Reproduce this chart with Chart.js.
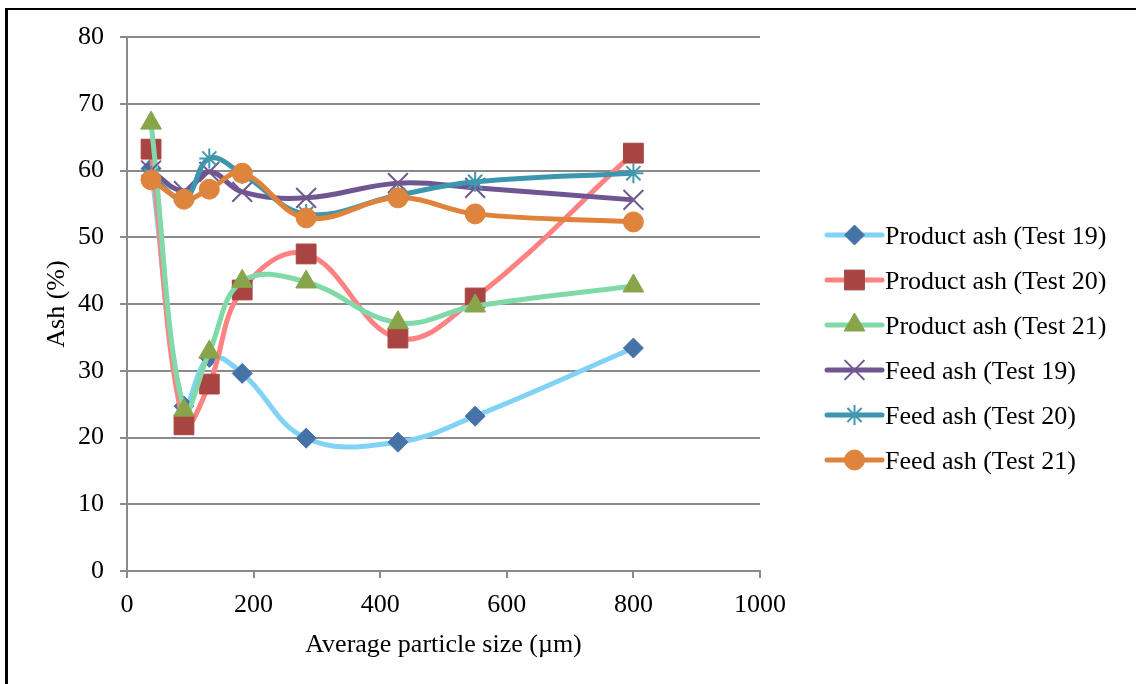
<!DOCTYPE html>
<html>
<head>
<meta charset="utf-8">
<script src="https://cdn.jsdelivr.net/npm/chart.js@4/dist/chart.umd.min.js"></script>
<style>
  html, body { margin: 0; padding: 0; background: #fff; overflow: hidden; }
  #wrap { position: relative; width: 1136px; height: 684px; }
  #chart { position: absolute; left: 0; top: 0; }
  #frame {
    position: absolute; left: 5px; top: 8px; width: 1300px; height: 900px;
    border-left: 3px solid #000; border-top: 2px solid #000; pointer-events: none;
  }
</style>
</head>
<body>
<div id="wrap">
  <canvas id="chart" width="1136" height="684"></canvas>
  <div id="frame"></div>
</div>
<script>
// Average particle size of each size fraction (µm)
const particleSize = [38, 90, 130, 182, 283, 428, 550, 800];

// Ash content (%) per size fraction
const productAshTest19 = [60.3, 24.7, 32.0, 29.6, 19.9, 19.3, 23.2, 33.4];
const productAshTest20 = [63.2, 21.9, 28.0, 42.1, 47.5, 34.9, 40.9, 62.6];
const productAshTest21 = [67.1, 24.1, 32.8, 43.4, 43.3, 37.2, 39.7, 42.7];
const feedAshTest19    = [60.0, 56.9, 59.8, 56.8, 55.9, 58.1, 57.4, 55.6];
const feedAshTest20    = [59.2, 55.8, 61.8, 59.5, 53.5, 56.3, 58.3, 59.6];
const feedAshTest21    = [58.6, 55.7, 57.2, 59.6, 52.9, 55.9, 53.5, 52.3];

const seriesNames = [
  'Product ash (Test 19)', 'Product ash (Test 20)', 'Product ash (Test 21)',
  'Feed ash (Test 19)', 'Feed ash (Test 20)', 'Feed ash (Test 21)'
];

const yTicks = [0, 10, 20, 30, 40, 50, 60, 70, 80];
const xTicks = [0, 200, 400, 600, 800, 1000];

const FONT = '"Liberation Serif", "Times New Roman", serif';

function pairs(values) {
  return particleSize.map((x, i) => ({ x: x, y: values[i] }));
}

const styles = [
  { line: '#80D3F5', mark: '#4572A7', shape: 'rectRot',  r: 10, bw: 1 },
  { line: '#FF8282', mark: '#A84542', shape: 'rect',     r: 14, bw: 1 },
  { line: '#80D9A8', mark: '#88A54C', shape: 'triangle', r: 12, bw: 1 },
  { line: '#6F5592', mark: '#71588F', shape: 'crossRot', r: 14, bw: 2 },
  { line: '#3C96AE', mark: '#4198AF', shape: 'star',     r: 10, bw: 2 },
  { line: '#E0823A', mark: '#DE843D', shape: 'circle',   r: 10, bw: 1 }
];

const seriesValues = [
  productAshTest19, productAshTest20, productAshTest21,
  feedAshTest19, feedAshTest20, feedAshTest21
];

const datasets = seriesValues.map((vals, i) => ({
  label: seriesNames[i],
  data: pairs(vals),
  borderColor: styles[i].line,
  borderWidth: 5,
  tension: 0.4,
  fill: false,
  pointStyle: styles[i].shape,
  pointRadius: styles[i].r,
  pointBackgroundColor: styles[i].mark,
  pointBorderColor: styles[i].mark,
  pointBorderWidth: styles[i].bw,
  order: seriesValues.length - i
}));

// Legend drawn to the right of the plot: line sample with marker, then label
const sideLegend = {
  id: 'sideLegend',
  afterDraw(chart) {
    const ctx = chart.ctx;
    const x0 = 827, x1 = 882, textX = 885, top = 235, step = 45;
    ctx.save();
    chart.data.datasets.forEach((ds, i) => {
      const y = top + i * step;
      ctx.beginPath();
      ctx.strokeStyle = ds.borderColor;
      ctx.lineWidth = 5;
      ctx.lineCap = 'round';
      ctx.moveTo(x0, y);
      ctx.lineTo(x1, y);
      ctx.stroke();
      ctx.lineCap = 'butt';
      ctx.fillStyle = ds.pointBackgroundColor;
      ctx.strokeStyle = ds.pointBorderColor;
      ctx.lineWidth = ds.pointBorderWidth;
      Chart.helpers.drawPoint(ctx, {
        pointStyle: ds.pointStyle,
        radius: ds.pointRadius,
        rotation: 0,
        borderWidth: ds.pointBorderWidth
      }, (x0 + x1) / 2, y);
      ctx.fillStyle = '#000';
      ctx.font = '26px ' + FONT;
      ctx.textBaseline = 'alphabetic';
      ctx.textAlign = 'left';
      ctx.fillText(ds.label, textX, y + 9);
    });
    ctx.restore();
  }
};

new Chart(document.getElementById('chart'), {
  type: 'line',
  data: { datasets: datasets },
  plugins: [sideLegend],
  options: {
    responsive: false,
    animation: false,
    events: [],
    layout: { padding: { left: 0, top: 37, right: 376, bottom: 0 } },
    plugins: { legend: { display: false }, tooltip: { enabled: false } },
    scales: {
      x: {
        type: 'linear',
        min: 0, max: 1000,
        afterBuildTicks(scale) { scale.ticks = xTicks.map(v => ({ value: v })); },
        afterFit(scale) { scale.height = 113; },
        border: { display: true, color: '#8a8a8a', width: 2 },
        grid: { drawOnChartArea: false, drawTicks: true, tickLength: 7, color: '#8a8a8a', lineWidth: 2 },
        ticks: {
          color: '#000', padding: 12, font: { family: FONT, size: 26 }, maxRotation: 0,
          callback: (v) => String(v)
        },
        title: {
          display: true, text: 'Average particle size (µm)', color: '#000',
          font: { family: FONT, size: 26 }, padding: { top: 0, bottom: 23 }
        }
      },
      y: {
        type: 'linear',
        min: 0, max: 80,
        afterBuildTicks(scale) { scale.ticks = yTicks.map(v => ({ value: v })); },
        afterFit(scale) { scale.width = 127; },
        border: { display: true, color: '#8a8a8a', width: 2 },
        grid: { drawOnChartArea: true, drawTicks: true, tickLength: 7, color: '#8a8a8a', lineWidth: 2 },
        ticks: { color: '#000', padding: 16, font: { family: FONT, size: 26 }, callback: (v) => String(v) },
        title: {
          display: true, text: 'Ash (%)', color: '#000',
          font: { family: FONT, size: 26 }, padding: { top: 42, bottom: 0 }
        }
      }
    }
  }
});
</script>
</body>
</html>
